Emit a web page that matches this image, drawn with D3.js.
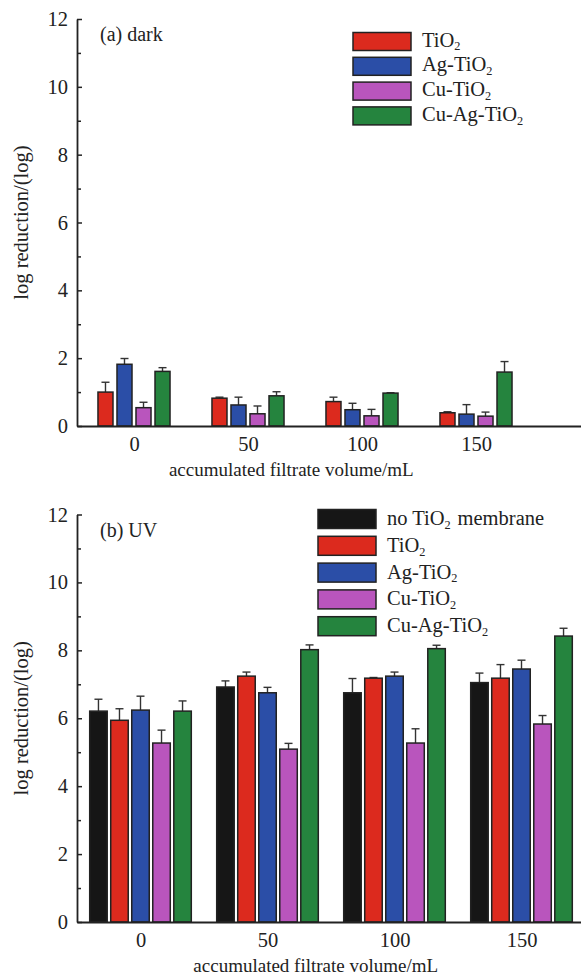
<!DOCTYPE html>
<html>
<head>
<meta charset="utf-8">
<script src="https://cdn.jsdelivr.net/npm/d3@7"></script>
<style>
  body { margin: 0; background: #fff; }
  svg { display: block; }
</style>
</head>
<body>
<svg id="chart" width="581" height="979"></svg>
<script>
// accumulated filtrate volume (mL)
var categories = [0, 50, 100, 150];

// (a) dark, series-major: one array per membrane
var darkSeries = ["TiO{2}", "Ag-TiO{2}", "Cu-TiO{2}", "Cu-Ag-TiO{2}"];
var darkColors = ["#dc2a1e", "#2b4ea7", "#b955bd", "#25843e"];
var darkValues = [
    [1.00, 0.82, 0.72, 0.39],
    [1.82, 0.62, 0.48, 0.35],
    [0.54, 0.36, 0.30, 0.29],
    [1.61, 0.89, 0.97, 1.59]
];
var darkErrors = [
    [0.29, 0.03, 0.13, 0.03],
    [0.17, 0.23, 0.19, 0.28],
    [0.16, 0.23, 0.19, 0.12],
    [0.11, 0.12, 0.01, 0.31]
];

// (b) UV
var uvSeries = ["no TiO{2} membrane", "TiO{2}", "Ag-TiO{2}", "Cu-TiO{2}", "Cu-Ag-TiO{2}"];
var uvColors = ["#161616", "#dc2a1e", "#2b4ea7", "#b955bd", "#25843e"];
var uvValues = [
    [6.21, 6.92, 6.75, 7.05],
    [5.94, 7.24, 7.18, 7.18],
    [6.24, 6.75, 7.24, 7.45],
    [5.27, 5.09, 5.27, 5.83],
    [6.21, 8.02, 8.05, 8.42]
];
var uvErrors = [
    [0.35, 0.18, 0.42, 0.28],
    [0.34, 0.12, 0.02, 0.40],
    [0.41, 0.16, 0.12, 0.26],
    [0.38, 0.17, 0.42, 0.25],
    [0.30, 0.14, 0.10, 0.23]
];

var yMajor = [0, 2, 4, 6, 8, 10, 12];
var yMinor = [1, 3, 5, 7, 9, 11];
var xTitle = "accumulated filtrate volume/mL";
var yTitle = "log reduction/(log)";

// pick a Times-like face that is really installed
function pickFont(list) {
    var ctx = document.createElement("canvas").getContext("2d");
    var probe = "accumulated filtrate volume/mL 0123456789";
    ctx.font = "40px monospace";
    var base = ctx.measureText(probe).width;
    for (var i = 0; i < list.length; i++) {
        ctx.font = "40px '" + list[i] + "', monospace";
        if (Math.abs(ctx.measureText(probe).width - base) > 0.5) return "'" + list[i] + "'";
    }
    return "serif";
}
var FONT = pickFont(["Liberation Serif", "Times New Roman", "Tinos", "Nimbus Roman", "Times", "DejaVu Serif"]);

var svg = d3.select("#chart").attr("font-family", FONT);

// writes "TiO{2}" as TiO with a subscript 2
function richText(sel, label, size) {
    var parts = label.split(/(\{[^}]*\})/);
    parts.forEach(function(p) {
        if (!p) return;
        if (p[0] == "{") {
            sel.append("tspan").attr("font-size", size * 0.6).attr("dy", size * 0.185).text(p.slice(1, -1));
            sel.append("tspan").attr("font-size", size).attr("dy", -size * 0.185).text("\u200a");
        } else {
            sel.append("tspan").text(p);
        }
    });
}

function drawPanel(p) {
    var x = d3.scaleLinear().domain(p.xDomain).range(p.xRange);
    var y = d3.scaleLinear().domain([0, 12]).range(p.yRange);
    var g = svg.append("g");

    // bars inside a group
    var inner = d3.scaleBand()
        .domain(d3.range(p.series.length))
        .range([x(-p.halfSpan) - x(0), x(p.halfSpan) - x(0)])
        .paddingInner(p.gap)
        .paddingOuter(0);

    var rows = [];
    p.values.forEach(function(vals, s) {
        vals.forEach(function(v, c) {
            rows.push({s: s, c: categories[c], v: v, e: p.errors[s][c]});
        });
    });

    // error bars (upper half only)
    var eb = g.append("g").attr("stroke", "#333").attr("stroke-width", 1.4);
    rows.forEach(function(d) {
        var cx = x(d.c) + inner(d.s) + inner.bandwidth() / 2;
        eb.append("line").attr("x1", cx).attr("x2", cx).attr("y1", y(d.v)).attr("y2", y(d.v + d.e));
        eb.append("line").attr("x1", cx - 4).attr("x2", cx + 4).attr("y1", y(d.v + d.e)).attr("y2", y(d.v + d.e));
    });

    g.append("g").selectAll("rect")
        .data(rows)
        .enter()
        .append("rect")
        .attr("x", function(d) { return x(d.c) + inner(d.s); })
        .attr("width", inner.bandwidth())
        .attr("y", function(d) { return y(d.v); })
        .attr("height", function(d) { return y(0) - y(d.v); })
        .attr("fill", function(d) { return p.colors[d.s]; })
        .attr("stroke", "#222")
        .attr("stroke-width", 1.5);

    // axes
    g.append("g")
        .attr("transform", "translate(" + p.xRange[0] + ",0)")
        .call(d3.axisLeft(y).tickValues(yMajor).tickSizeInner(-5).tickSizeOuter(0).tickPadding(9));
    g.append("g")
        .attr("transform", "translate(" + p.xRange[0] + ",0)")
        .call(d3.axisLeft(y).tickValues(yMinor).tickSizeInner(-4).tickSizeOuter(0).tickFormat(""))
        .select(".domain").remove();
    g.append("g")
        .attr("transform", "translate(0," + p.yRange[0] + ")")
        .call(d3.axisBottom(x).tickValues(categories).tickSizeInner(0).tickSizeOuter(0).tickPadding(10));

    g.selectAll(".domain").attr("stroke", "#222").attr("stroke-width", 1.8);
    g.selectAll(".tick line").attr("stroke", "#222").attr("stroke-width", 1.5);
    g.selectAll("g").filter(function() { return this.getAttribute("font-family") == "sans-serif"; })
        .attr("font-family", FONT);
    g.selectAll(".tick text").attr("font-size", 20.5).attr("fill", "#222");

    // titles
    g.append("text")
        .attr("x", x(69))
        .attr("y", p.yRange[0] + 50)
        .attr("text-anchor", "middle")
        .attr("font-size", 19)
        .attr("fill", "#222")
        .text(xTitle);
    g.append("text")
        .attr("transform", "translate(28," + (p.yRange[0] + p.yRange[1]) / 2 + ") rotate(-90)")
        .attr("text-anchor", "middle")
        .attr("font-size", 20.5)
        .attr("fill", "#222")
        .text(yTitle);
    g.append("text")
        .attr("x", 100)
        .attr("y", p.yRange[1] + 22)
        .attr("font-size", 20)
        .attr("fill", "#222")
        .text(p.label);

    // legend
    var lg = g.append("g").attr("transform", "translate(" + p.legend[0] + "," + p.legend[1] + ")");
    p.series.forEach(function(name, i) {
        var row = lg.append("g").attr("transform", "translate(0," + i * p.legendStep + ")");
        row.append("rect")
            .attr("width", 58)
            .attr("height", p.legendBox)
            .attr("fill", p.colors[i])
            .attr("stroke", "#222")
            .attr("stroke-width", 1.5);
        var t = row.append("text")
            .attr("x", 69)
            .attr("y", p.legendBase)
            .attr("font-size", 20.5)
            .attr("fill", "#222");
        richText(t, name, 20.5);
    });
}

drawPanel({
    label: "(a) dark",
    series: darkSeries, colors: darkColors, values: darkValues, errors: darkErrors,
    xDomain: [-25, 200], xRange: [77, 590], yRange: [426, 19],
    halfSpan: 15.8, gap: 0.21,
    legend: [353, 32.5], legendStep: 24.8, legendBox: 18, legendBase: 14
});

drawPanel({
    label: "(b) UV",
    series: uvSeries, colors: uvColors, values: uvValues, errors: uvErrors,
    xDomain: [-25, 175], xRange: [77, 585], yRange: [922, 514.5],
    halfSpan: 20, gap: 0.167,
    legend: [318, 509.5], legendStep: 26.8, legendBox: 19, legendBase: 15.5
});
</script>
</body>
</html>
